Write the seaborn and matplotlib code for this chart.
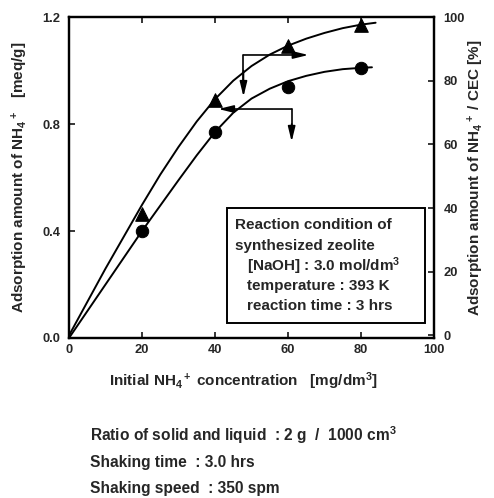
import numpy as np
import pandas as pd
import matplotlib
matplotlib.use("Agg")
import matplotlib.pyplot as plt
import seaborn as sns
from matplotlib.patches import Rectangle

# ---- data ----
conc = [20, 40, 60, 80]
meq_circles = [0.40, 0.77, 0.94, 1.01]          # left axis [meq/g]
cec_triangles = [38.0, 74.0, 91.0, 97.5]         # right axis [%]

curve_circ_x = [0, 5, 10, 15, 20, 25, 30, 35, 40, 45, 50, 55, 60, 65, 70, 75, 80, 83]
curve_circ_y = [0, 0.10, 0.20, 0.30, 0.40, 0.495, 0.59, 0.683, 0.77, 0.842, 0.895,
                0.932, 0.96, 0.98, 0.995, 1.005, 1.01, 1.012]
curve_tri_x = [0, 5, 10, 15, 20, 25, 30, 35, 40, 45, 50, 55, 60, 65, 70, 75, 80, 84]
curve_tri_y = [0, 10.5, 21, 31, 41, 50.5, 59.2, 67.2, 74.2, 80.0, 84.6, 88.2, 91.0,
               93.2, 95.0, 96.5, 97.6, 98.2]

x_ticks = [0, 20, 40, 60, 80, 100]
left_ticks = [0.0, 0.4, 0.8, 1.2]
left_tick_labels = ["0.0", "0.4", "0.8", "1.2"]
right_ticks = [0, 20, 40, 60, 80, 100]

box_lines = ["Reaction condition of", "synthesized zeolite",
             "[NaOH] : 3.0 mol/dm$^3$", "temperature : 393 K", "reaction time : 3 hrs"]
footer_lines = ["Ratio of solid and liquid  : 2 g  /  1000 cm$^3$",
                "Shaking time  : 3.0 hrs",
                "Shaking speed  : 350 spm"]

sns.set_style("ticks")
plt.rcParams['font.family'] = ['Liberation Sans', 'DejaVu Sans']
plt.rcParams['font.weight'] = 'bold'
plt.rcParams['mathtext.fontset'] = 'custom'
plt.rcParams['mathtext.rm'] = 'Liberation Sans:bold'
plt.rcParams['mathtext.it'] = 'Liberation Sans:bold'
plt.rcParams['mathtext.bf'] = 'Liberation Sans:bold'
plt.rcParams['mathtext.default'] = 'rm'

W, H = 494, 498
fig = plt.figure(figsize=(W / 100, H / 100), dpi=100)
ax = fig.add_axes([69 / W, 1 - 338 / H, (434 - 69) / W, (338 - 17) / H])
ax2 = ax.twinx()

df_cc = pd.DataFrame({"x": curve_circ_x, "y": curve_circ_y})
df_tc = pd.DataFrame({"x": curve_tri_x, "y": curve_tri_y})
sns.lineplot(data=df_cc, x="x", y="y", ax=ax, color="black", lw=1.4, sort=False)
sns.lineplot(data=df_tc, x="x", y="y", ax=ax2, color="black", lw=1.4, sort=False)
sns.scatterplot(x=conc, y=meq_circles, ax=ax, marker="o", s=80, color="black",
                edgecolor="black", zorder=5)
sns.scatterplot(x=conc, y=cec_triangles, ax=ax2, marker="^", s=95, color="black",
                edgecolor="black", zorder=5)

ax.set_xlim(0, 100)
ax.set_ylim(0, 1.2)
ax2.set_ylim(-0.8, 99.6)

ax.set_xticks(x_ticks)
ax.set_xticklabels([str(t) for t in x_ticks])
ax.set_yticks(left_ticks)
ax.set_yticklabels(left_tick_labels)
ax2.set_yticks(right_ticks)
ax2.set_yticklabels([str(t) for t in right_ticks])

for a in (ax, ax2):
    a.tick_params(direction="in", length=4, width=1.3, labelsize=9.3)
    for s in a.spines.values():
        s.set_linewidth(1.6)
        s.set_color("black")
ax.tick_params(axis="x", top=True, labeltop=False, pad=4)
ax.tick_params(axis="y", pad=6)
ax2.tick_params(axis="y", pad=7)
for lab in ax.get_xticklabels() + ax.get_yticklabels() + ax2.get_yticklabels():
    lab.set_fontweight("bold")

ax.set_xlabel("Initial NH$_4$$^+$ concentration   [mg/dm$^3$]", fontsize=11,
              fontweight="bold")
ax.set_ylabel("Adsorption amount of NH$_4$$^+$   [meq/g]", fontsize=11,
              fontweight="bold")
ax2.set_ylabel("Adsorption amount of NH$_4$$^+$ / CEC [%]", fontsize=11,
               fontweight="bold", rotation=90)
ax.xaxis.set_label_coords(0.479, -0.10)
ax.yaxis.set_label_coords(-0.108, 0.5)
ax2.yaxis.set_label_coords(1.088, 0.5)

# arrows (brackets)
ap = dict(arrowstyle="-|>,head_length=0.9,head_width=0.22", color="black", lw=1.2,
          shrinkA=0, shrinkB=0)
ax.plot([47.8, 47.8], [1.058, 0.93], color="black", lw=1.2)
ax.annotate("", xy=(47.8, 0.902), xytext=(47.8, 1.0), arrowprops=ap)
ax.annotate("", xy=(65.6, 1.058), xytext=(47.8, 1.058), arrowprops=ap)
ax.plot([61.0, 61.0], [0.856, 0.76], color="black", lw=1.2)
ax.annotate("", xy=(61.0, 0.734), xytext=(61.0, 0.80), arrowprops=ap)
ax.annotate("", xy=(40.9, 0.856), xytext=(61.0, 0.856), arrowprops=ap)

# text box
box = Rectangle((227 / W, 1 - 323 / H), (425 - 227) / W, (323 - 208) / H,
                transform=fig.transFigure, fill=True, facecolor="white",
                edgecolor="black", lw=1.4, zorder=6)
fig.patches.append(box)
box_x = [235, 235, 247, 247, 247]
box_y = [225, 246, 266, 286, 306]
for t, bx, by in zip(box_lines, box_x, box_y):
    fig.text(bx / W, 1 - by / H, t, fontsize=11, fontweight="bold",
             va="center", ha="left", zorder=7)

foot_y = [435, 462, 488]
for t, fy in zip(footer_lines, foot_y):
    fig.text(90 / W, 1 - fy / H, t, fontsize=11.2, fontweight="bold",
             va="center", ha="left")

fig.savefig("out.png", dpi=100)
